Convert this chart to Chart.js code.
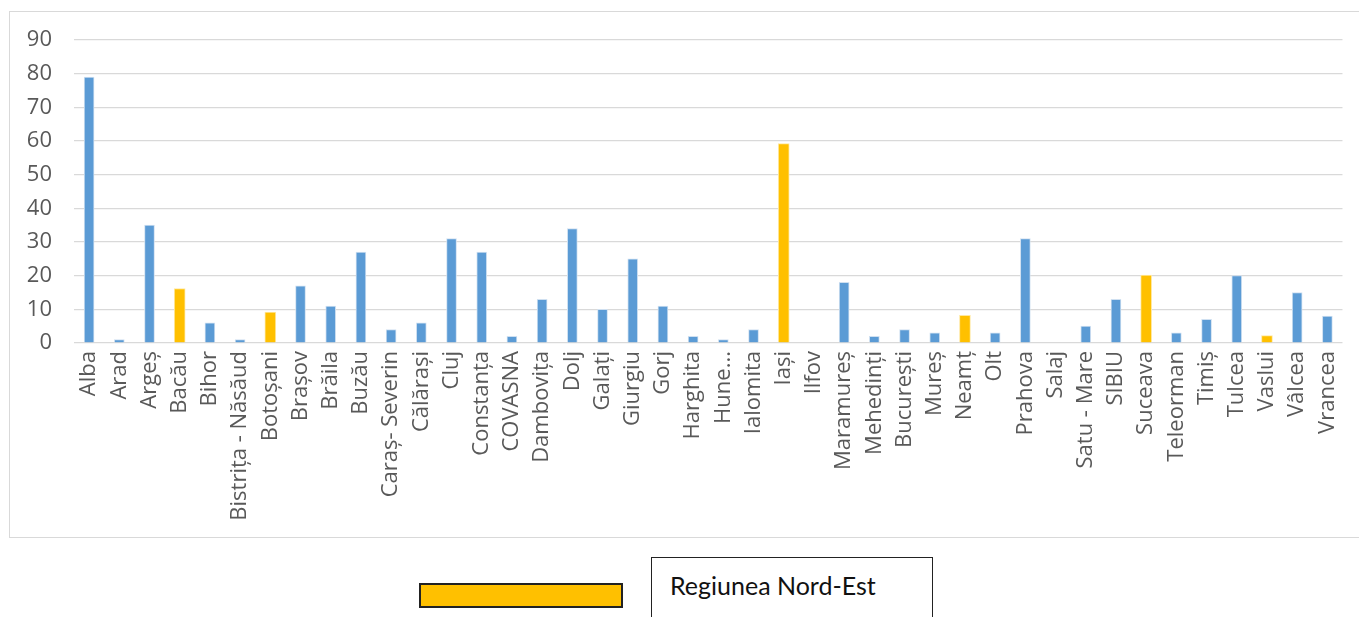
<!DOCTYPE html>
<html>
<head>
<meta charset="utf-8">
<script src="https://cdn.jsdelivr.net/npm/chart.js@4/dist/chart.umd.min.js"></script>
<style>
body{margin:0;background:#fff;width:1359px;height:617px;position:relative;overflow:hidden;}
#frame{position:absolute;left:9px;top:11px;width:1352px;height:525px;border:1px solid #d9d9d9;}
#frame canvas{position:absolute;left:0;top:0;}
#swatch{position:absolute;left:419px;top:583px;width:200px;height:21px;background:#ffc000;border:2px solid #222;}
#box{position:absolute;left:651px;top:557px;width:280px;height:70px;border:1.5px solid #222;background:#fff;}
#box span{position:absolute;left:18px;top:12px;font-family:Lato,"Liberation Sans",sans-serif;font-size:25px;color:#111;}
</style>
</head>
<body>
<div id="frame"><canvas id="barChart"></canvas></div>
<div id="swatch"></div>
<div id="box"><span>Regiunea Nord-Est</span></div>

<script>

// ==========================================DATA==========================================

const judete = [
"Alba","Arad","Argeș","Bacău","Bihor","Bistrița - Năsăud","Botoșani","Brașov","Brăila","Buzău",
"Caraș- Severin","Călărași","Cluj","Constanța","COVASNA","Dambovița","Dolj","Galați","Giurgiu","Gorj",
"Harghita","Hune...","Ialomita","Iași","Ilfov","Maramureș","Mehedinți","București","Mureș","Neamț",
"Olt","Prahova","Salaj","Satu - Mare","SIBIU","Suceava","Teleorman","Timiș","Tulcea","Vaslui",
"Vâlcea","Vrancea"
];

const valori = [
79,1,35,16.2,6,1,9.2,17,11,27,
4,6,31,27,2,13,34,10,25,11,
2,1,4,59.2,0,18,2,4,3,8.2,
3,31,0,5,13,20.2,3,7,20,2.2,
15,8
];

// judetele din Regiunea Nord-Est, colorate separat
const nordEst = ["Bacău","Botoșani","Iași","Neamț","Suceava","Vaslui"];

const yTicks = [0,10,20,30,40,50,60,70,80,90];

const restul = valori.map((v,i)=> nordEst.includes(judete[i]) ? null : v);
const regiune = valori.map((v,i)=> nordEst.includes(judete[i]) ? v : null);


// ==========================================BAR CHART==========================================

const ctx = document.getElementById("barChart");
ctx.width = 1352;
ctx.height = 525;

new Chart(ctx,{

type:"bar",

data:{
labels:judete,
datasets:[
{
label:"Judete",
data:restul,
backgroundColor:"#5b9bd5",
borderColor:"#cfe0f1",
borderWidth:{top:1,left:1,right:1,bottom:0},
barThickness:10
},
{
label:"Regiunea Nord-Est",
data:regiune,
backgroundColor:"#ffc000",
borderColor:"#ffe8a0",
borderWidth:{top:1,left:1,right:1,bottom:0},
barThickness:11
}
]
},

options:{
responsive:false,
animation:false,
layout:{padding:{top:28,right:19,left:0,bottom:0}},
plugins:{legend:{display:false},tooltip:{enabled:false}},
scales:{
x:{
stacked:true,
grid:{display:false,drawTicks:false},
border:{display:false},
ticks:{
color:"#595959",
font:{family:"Open Sans",size:22},
maxRotation:90,
minRotation:90,
autoSkip:false,
padding:8
},
afterFit:(s)=>{ s.height = 194; }
},
y:{
min:0,
max:90,
afterBuildTicks:(s)=>{ s.ticks = yTicks.map(v=>({value:v})); },
grid:{color:"#d9d9d9",lineWidth:1.3,drawTicks:false},
border:{display:false},
ticks:{
color:"#595959",
font:{family:"Open Sans",size:22},
padding:22
},
afterFit:(s)=>{ s.width = 64; s.paddingTop = 0; s.paddingBottom = 0; }
}
}
}

});

</script>
</body>
</html>
